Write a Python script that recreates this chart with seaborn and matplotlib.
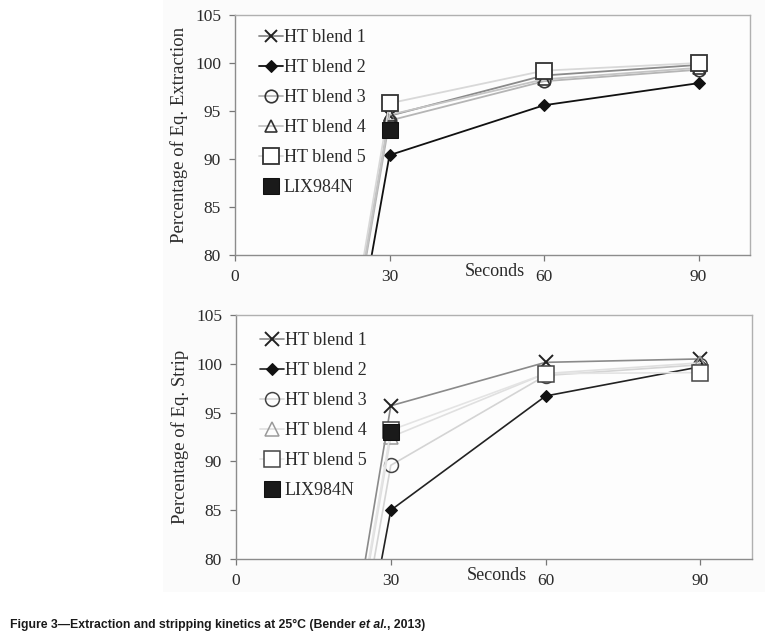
import numpy as np
import pandas as pd
import matplotlib
matplotlib.use("Agg")
import matplotlib.pyplot as plt
import seaborn as sns
from matplotlib import font_manager
from matplotlib.patches import Rectangle

# ---------------- data ----------------
seconds = [0, 30, 60, 90]
series_names = ["HT blend 1", "HT blend 2", "HT blend 3", "HT blend 4", "HT blend 5", "LIX984N"]

extraction_blend1 = [0, 94.5, 98.7, 99.8]
extraction_blend2 = [0, 90.4, 95.6, 97.9]
extraction_blend3 = [0, 94.0, 98.1, 99.3]
extraction_blend4 = [0, 94.6, 98.3, 99.5]
extraction_blend5 = [0, 95.8, 99.2, 100.0]
extraction_lix = [np.nan, 93.0, np.nan, np.nan]

strip_blend1 = [0, 95.7, 100.15, 100.5]
strip_blend2 = [0, 85.0, 96.7, 99.7]
strip_blend3 = [0, 89.6, 98.8, 99.9]
strip_blend4 = [0, 92.5, 99.0, 100.1]
strip_blend5 = [0, 93.2, 99.0, 99.1]
strip_lix = [np.nan, 93.0, np.nan, np.nan]

x_ticks = [0, 30, 60, 90]
y_ticks = [80, 85, 90, 95, 100, 105]

sns.set_theme(style="white")
serif = ["Liberation Serif", "DejaVu Serif"]
plt.rcParams["font.family"] = serif

fig = plt.figure(figsize=(7.65, 6.4), dpi=100)
fig.patch.set_facecolor("white")
# faint page-grey region behind the charts
fig.patches.append(Rectangle((163 / 765, 48 / 640), 1 - 163 / 765, 1 - 48 / 640,
                             transform=fig.transFigure, facecolor="#fbfbfb",
                             edgecolor="none", zorder=-10))

ax1 = fig.add_axes([235 / 765, 1 - 255 / 640, (750 - 235) / 765, 240 / 640])
ax2 = fig.add_axes([236 / 765, 1 - 559 / 640, (752 - 236) / 765, 244 / 640])

styles_top = [
    dict(color="#8a8a8a", marker="x", ms=9, mec="#222222", mew=1.4, mfc="none", lw=1.3),
    dict(color="#111111", marker="D", ms=6, mec="#111111", mfc="#111111", lw=1.3),
    dict(color="#b5b5b5", marker="o", ms=9, mec="#333333", mew=1.2, mfc="none", lw=1.3),
    dict(color="#c4c4c4", marker="^", ms=9, mec="#333333", mew=1.2, mfc="none", lw=1.3),
    dict(color="#d8d8d8", marker="s", ms=11, mec="#333333", mew=1.3, mfc="white", lw=1.3),
    dict(color="#111111", marker="s", ms=11, mec="#111111", mfc="#1a1a1a", lw=0, ls=""),
]
styles_bottom = [
    dict(color="#8a8a8a", marker="x", ms=10, mec="#222222", mew=1.4, mfc="none", lw=1.2),
    dict(color="#222222", marker="D", ms=6, mec="#111111", mfc="#111111", lw=1.2),
    dict(color="#d4d4d4", marker="o", ms=10, mec="#444444", mew=1.1, mfc="none", lw=1.2),
    dict(color="#e0e0e0", marker="^", ms=10, mec="#9a9a9a", mew=1.1, mfc="none", lw=1.2),
    dict(color="#e4e4e4", marker="s", ms=11, mec="#444444", mew=1.1, mfc="white", lw=1.2),
    dict(color="#111111", marker="s", ms=11, mec="#111111", mfc="#1a1a1a", lw=0, ls=""),
]

top_vals = [extraction_blend1, extraction_blend2, extraction_blend3,
            extraction_blend4, extraction_blend5, extraction_lix]
bot_vals = [strip_blend1, strip_blend2, strip_blend3,
            strip_blend4, strip_blend5, strip_lix]


def draw(ax, vals_list, styles, ylabel, legend_anchor):
    ax.set_facecolor("#fdfdfd")
    for name, vals, st in zip(series_names, vals_list, styles):
        df = pd.DataFrame({"s": seconds, "v": vals}).dropna()
        sns.lineplot(data=df, x="s", y="v", ax=ax, label=name, **st)
    ax.set_xlim(0, 100)
    ax.set_ylim(80, 105)
    ax.set_xticks(x_ticks)
    ax.set_yticks(y_ticks)
    ax.set_xticklabels([str(t) for t in x_ticks])
    ax.set_yticklabels([str(t) for t in y_ticks])
    ax.tick_params(axis="both", labelsize=12.5, labelcolor="#2a2a2a",
                   length=4, width=0.9, color="#777777", direction="out",
                   bottom=True, left=True, pad=6)
    for side in ["top", "right"]:
        ax.spines[side].set_color("#b0b0b0")
        ax.spines[side].set_linewidth(1.0)
    for side in ["left", "bottom"]:
        ax.spines[side].set_color("#8c8c8c")
        ax.spines[side].set_linewidth(1.0)
    ax.set_ylabel(ylabel, fontsize=13.5, color="#2a2a2a", labelpad=5)
    ax.set_xlabel("Seconds", fontsize=13, color="#2a2a2a")
    ax.xaxis.set_label_coords(0.505, -0.033)
    ax.xaxis.label.set_va("top")
    leg = ax.legend(loc="upper left", bbox_to_anchor=legend_anchor, frameon=False,
                    fontsize=13, handlelength=1.35, handletextpad=0.05,
                    labelspacing=0.72, borderaxespad=0.2)
    for t in leg.get_texts():
        t.set_color("#2a2a2a")
    ax.grid(False)


draw(ax1, top_vals, styles_top, "Percentage of Eq. Extraction", (0.025, 0.985))
draw(ax2, bot_vals, styles_bottom, "Percentage of Eq. Strip", (0.025, 0.975))

# ---------------- caption ----------------
cap_family = ["Liberation Sans Narrow", "Liberation Sans", "DejaVu Sans"]
try:
    font_manager.findfont(font_manager.FontProperties(family="Liberation Sans Narrow"),
                          fallback_to_default=False)
    cap_size = 10.9
except Exception:
    cap_family = ["Liberation Sans", "DejaVu Sans"]
    cap_size = 8.8

fig.canvas.draw()
renderer = fig.canvas.get_renderer()
x0 = 10 / 765
yc = 1 - 625 / 640
parts = [("Figure 3\u2014Extraction and stripping kinetics at 25\u00b0C (Bender ", "normal"),
         ("et al.", "italic"),
         (", 2013)", "normal")]
x = x0
for txt, style in parts:
    t = fig.text(x, yc, txt, family=cap_family, fontsize=cap_size, fontweight="bold",
                 style=style, color="#1a1a1a", va="center", ha="left")
    bb = t.get_window_extent(renderer=renderer)
    x = x + bb.width / fig.bbox.width

fig.savefig("out.png", dpi=100, facecolor="white")
